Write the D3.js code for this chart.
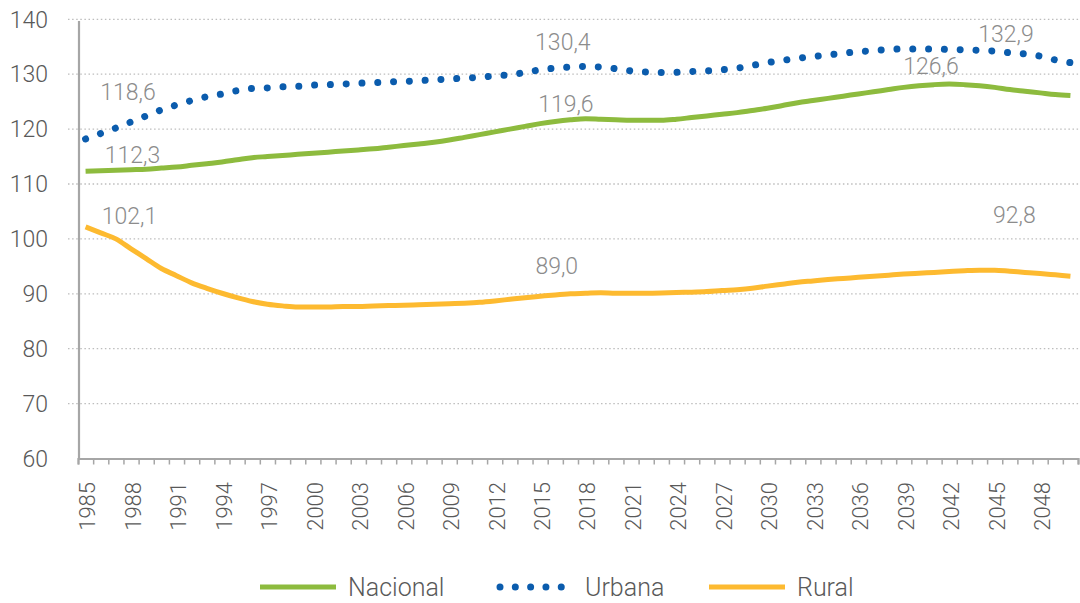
<!DOCTYPE html>
<html>
<head>
<meta charset="utf-8">
<script src="https://d3js.org/d3.v7.min.js"></script>
<style>
  body { margin: 0; background: #fff; }
  svg { display: block; font-family: Roboto, "DejaVu Sans", sans-serif; font-weight: 300; }
  .grid line { stroke: #bdbdbd; stroke-width: 1.3; stroke-dasharray: 1.5 2.6; }
  .ylab { fill: #595959; font-size: 23px; }
  .xlab { fill: #595959; font-size: 22px; }
  .dlab { fill: #8c8c8c; font-size: 23px; }
  .leg { fill: #595959; font-size: 25px; }
</style>
</head>
<body>
<svg width="1080" height="603"></svg>
<script>
var years = d3.range(1985, 2051);

var nacional = [112.3, 112.4, 112.5, 112.6, 112.7, 112.9, 113.1, 113.4, 113.7, 114.0,
  114.4, 114.8, 115.0, 115.2, 115.4, 115.6, 115.8, 116.0, 116.2, 116.4,
  116.7, 117.0, 117.3, 117.6, 118.0, 118.5, 119.0, 119.5, 120.0, 120.5,
  121.0, 121.4, 121.7, 121.9, 121.8, 121.7, 121.6, 121.6, 121.6, 121.8,
  122.1, 122.4, 122.7, 123.0, 123.4, 123.8, 124.3, 124.8, 125.2, 125.6,
  126.0, 126.4, 126.8, 127.2, 127.6, 127.9, 128.1, 128.2, 128.1, 127.9,
  127.6, 127.2, 126.9, 126.6, 126.3, 126.1];

var urbana = [118.2, 119.2, 120.2, 121.3, 122.4, 123.5, 124.4, 125.2, 125.9, 126.4,
  127.0, 127.4, 127.5, 127.7, 127.8, 128.0, 128.1, 128.2, 128.35, 128.45,
  128.6, 128.7, 128.8, 129.0, 129.1, 129.3, 129.4, 129.7, 129.9, 130.3,
  130.8, 131.1, 131.3, 131.4, 131.3, 131.0, 130.6, 130.4, 130.3, 130.35,
  130.5, 130.6, 130.8, 131.1, 131.6, 132.1, 132.5, 132.9, 133.2, 133.5,
  133.8, 134.1, 134.3, 134.5, 134.6, 134.6, 134.6, 134.5, 134.45, 134.35,
  134.2, 133.9, 133.7, 133.3, 132.6, 132.1];

var rural = [102.2, 101.1, 100.0, 98.2, 96.4, 94.6, 93.3, 92.0, 91.0, 90.1,
  89.3, 88.6, 88.1, 87.8, 87.6, 87.6, 87.6, 87.7, 87.7, 87.8,
  87.85, 87.9, 88.0, 88.1, 88.2, 88.3, 88.45, 88.7, 89.0, 89.3,
  89.55, 89.8, 90.0, 90.1, 90.2, 90.1, 90.1, 90.1, 90.15, 90.25,
  90.3, 90.4, 90.6, 90.75, 91.0, 91.4, 91.75, 92.1, 92.35, 92.6,
  92.8, 93.0, 93.2, 93.4, 93.6, 93.75, 93.9, 94.05, 94.2, 94.3,
  94.3, 94.1, 93.9, 93.7, 93.45, 93.2];

var yTicks = [60, 70, 80, 90, 100, 110, 120, 130, 140];
var xLabelYears = d3.range(1985, 2050, 3);

// annotation labels: text, label centre (year), label baseline (value)
var labelText = ["118,6", "112,3", "102,1", "130,4", "119,6", "89,0", "132,9", "126,6", "92,8"];
var labelYear = [1987.8, 1988.1, 1987.9, 2016.5, 2016.7, 2016.1, 2045.75, 2040.8, 2046.3];
var labelValue = [125.3, 113.8, 102.7, 134.4, 123.1, 93.6, 135.9, 130.0, 102.9];

var seriesNames = ["Nacional", "Urbana", "Rural"];
var seriesColors = ["#8dbb3e", "#0b5cad", "#fdba30"];

var svg = d3.select("svg");

var x = d3.scaleLinear().domain([1984.5, 2050.5]).range([78, 1078]);
var y = d3.scaleLinear().domain([60, 140]).range([458.5, 19.3]);

// gridlines
svg.append("g").attr("class", "grid")
  .selectAll("line")
  .data(yTicks.slice(1))
  .enter().append("line")
    .attr("x1", 68).attr("x2", 1080)
    .attr("y1", function(d) { return y(d); })
    .attr("y2", function(d) { return y(d); });

// y labels
svg.append("g").selectAll("text")
  .data(yTicks)
  .enter().append("text")
    .attr("class", "ylab")
    .attr("x", 48)
    .attr("y", function(d) { return y(d); })
    .attr("dy", "0.36em")
    .attr("text-anchor", "end")
    .text(function(d) { return d; });

// x axis with ticks on category boundaries
var xAxis = d3.axisBottom(x)
  .tickValues(d3.range(1984.5, 2051, 1))
  .tickSize(6)
  .tickFormat("");
var gx = svg.append("g")
  .attr("transform", "translate(0," + y(60) + ")")
  .call(xAxis);
gx.select(".domain").attr("stroke", "#a6a6a6").attr("stroke-width", 2.2);
gx.selectAll(".tick line").attr("stroke", "#a6a6a6").attr("stroke-width", 1.5);

// y axis line
svg.append("line")
  .attr("x1", x(1984.5) + 1).attr("x2", x(1984.5) + 1)
  .attr("y1", y(139.7)).attr("y2", y(60))
  .attr("stroke", "#a6a6a6").attr("stroke-width", 2.2);

// x labels
svg.append("g").selectAll("text")
  .data(xLabelYears)
  .enter().append("text")
    .attr("class", "xlab")
    .attr("text-anchor", "end")
    .attr("transform", function(d) { return "translate(" + (x(d) + 2) + ",482) rotate(-90)"; })
    .attr("dy", "0.36em")
    .text(function(d) { return d; });

var line = d3.line()
  .x(function(d, i) { return x(years[i]); })
  .y(function(d) { return y(d); })
  .curve(d3.curveMonotoneX);

svg.append("path")
  .attr("d", line(nacional))
  .attr("fill", "none")
  .attr("stroke", seriesColors[0])
  .attr("stroke-width", 5);

svg.append("path")
  .attr("d", line(rural))
  .attr("fill", "none")
  .attr("stroke", seriesColors[2])
  .attr("stroke-width", 5);

svg.append("path")
  .attr("d", line(urbana))
  .attr("fill", "none")
  .attr("stroke", seriesColors[1])
  .attr("stroke-width", 7)
  .attr("stroke-linecap", "round")
  .attr("stroke-dasharray", "0.01 15.8");

// data labels
svg.append("g").selectAll("text")
  .data(labelText)
  .enter().append("text")
    .attr("class", "dlab")
    .attr("text-anchor", "middle")
    .attr("x", function(d, i) { return x(labelYear[i]); })
    .attr("y", function(d, i) { return y(labelValue[i]); })
    .text(function(d) { return d; });

// legend
var legX = [260, 497, 709];
var leg = svg.append("g").attr("transform", "translate(0,587)");
seriesNames.forEach(function(name, i) {
  var sym = leg.append("line")
    .attr("x1", legX[i]).attr("x2", legX[i] + 76)
    .attr("y1", 0).attr("y2", 0)
    .attr("stroke", seriesColors[i]);
  if (i == 1) {
    sym.attr("x1", legX[i] + 3).attr("x2", legX[i] + 74)
      .attr("stroke-width", 7).attr("stroke-linecap", "round")
      .attr("stroke-dasharray", "0.01 15.3");
  } else {
    sym.attr("stroke-width", 5);
  }
  leg.append("text")
    .attr("class", "leg")
    .attr("x", legX[i] + 88)
    .attr("y", 0)
    .attr("dy", "0.35em")
    .text(name);
});
</script>
</body>
</html>
